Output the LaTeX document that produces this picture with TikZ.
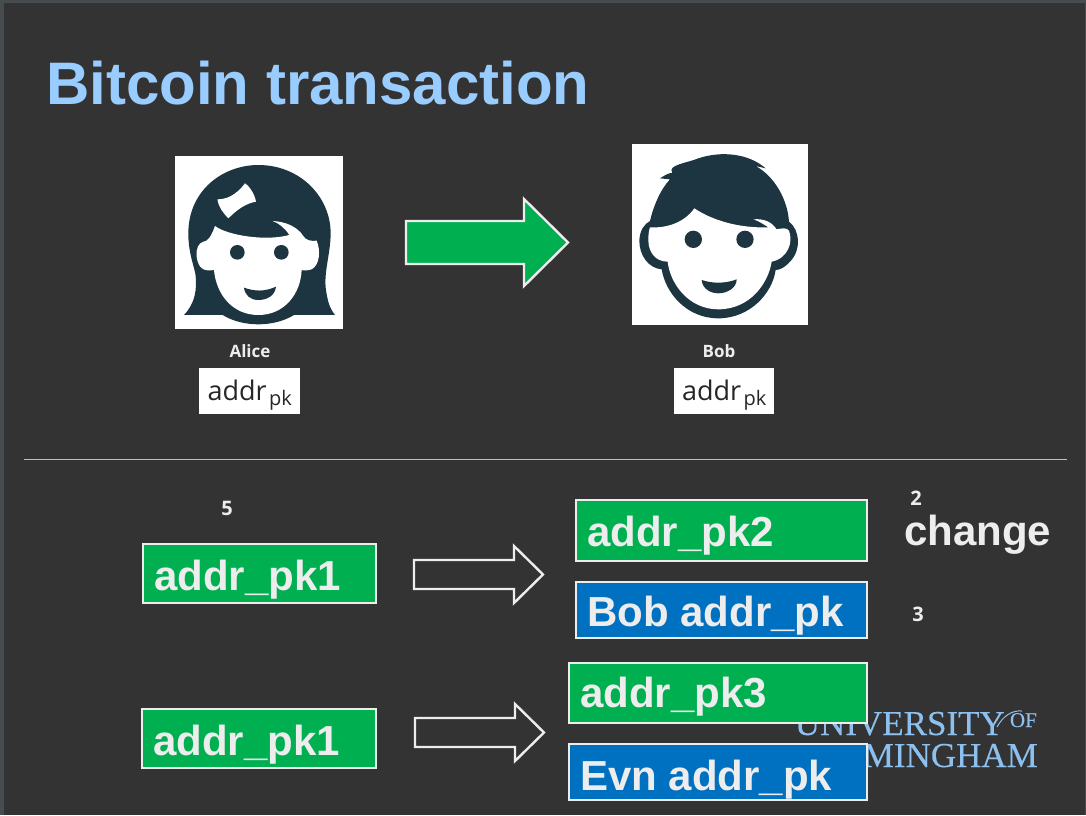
\documentclass[tikz,border=0pt]{standalone}
\usepackage{fontspec}
\setmainfont{Liberation Sans}
\newfontfamily\labelfont{Open Sans}
\newfontfamily\addrfont{Open Sans}
\newfontfamily\logofont[FakeBold=0.25]{Liberation Serif}
\definecolor{bgdark}{HTML}{333333}
\definecolor{frameedge}{HTML}{474C4E}
\definecolor{titleblue}{HTML}{99CCFF}
\definecolor{boxgreen}{HTML}{00B050}
\definecolor{boxblue}{HTML}{0070C0}
\definecolor{boxedge}{HTML}{EDEDED}
\definecolor{facedark}{HTML}{1D3540}
\definecolor{logoblue}{HTML}{8DBFEF}
\tikzset{
  x=1pt,y=-1pt,
  addrbox/.style={draw=boxedge,line width=2.3pt,inner sep=0pt,anchor=north west},
  greenbox/.style={addrbox,fill=boxgreen},
  bluebox/.style={addrbox,fill=boxblue},
  blockout/.style={draw=boxedge,line width=2.4pt,miter limit=10},
  smallnum/.style={text=boxedge,font=\labelfont\fontsize{20}{20}\selectfont\bfseries,inner sep=0pt},
  personlabel/.style={text=boxedge,font=\labelfont\fontsize{17}{17}\selectfont\bfseries,inner sep=0pt},
  whitecard/.style={fill=white,draw=none,inner sep=0pt,anchor=north west},
  addrcard/.style={whitecard,text=black!85,align=center},
  logotext/.style={text=logoblue,inner sep=0pt,anchor=base east,font=\logofont},
}
\newcommand{\addrpk}{\raisebox{-9pt}[0pt][0pt]{\addrfont\fontsize{27}{27}\selectfont addr\kern2.5pt\raisebox{-5pt}{\fontsize{20}{20}\selectfont pk}}}
\newcommand{\boxat}[8]{\node[#1,minimum width=#4pt-2.3pt,minimum height=#5pt-2.3pt] (#6) at (#2,#3) {};
  \node[text=boxedge,inner sep=0pt,anchor=base west,font=\fontsize{42}{42}\selectfont\bfseries] (#6t) at ([xshift=12pt,yshift=-14.5pt-#8pt]#6.west) {#7};}
\begin{document}
\begin{tikzpicture}
\useasboundingbox (0,0) rectangle (1086,815);
\fill[frameedge] (0,0) rectangle (1086,815);
\fill[bgdark] (4,3) rectangle (1085,815);

\node[text=titleblue,inner sep=0pt,anchor=base west,font=\fontsize{60}{60}\selectfont\bfseries] (title) at (46,104) {Bitcoin transaction};

% Alice
\node[whitecard,minimum width=168pt,minimum height=173pt] (alicecard) at (175,156) {};
\begin{scope}[shift={(170,140)},x=0.3333pt,y=-0.3333pt]
\fill[facedark] (42,525) .. controls (75,490) and (82,450) .. (76,400)
  .. controls (66,360) and (55,330) .. (55,280)
  .. controls (55,150) and (160,75) .. (265,75)
  .. controls (390,75) and (482,170) .. (482,280)
  .. controls (482,340) and (460,400) .. (468,450)
  .. controls (474,490) and (480,505) .. (495,525)
  -- (372,525) .. controls (340,545) and (300,553) .. (265,553)
  .. controls (230,553) and (190,545) .. (158,525) -- cycle;
\fill[white] (135,258) .. controls (170,285) and (285,305) .. (358,285)
  .. controls (345,265) and (328,250) .. (308,243)
  .. controls (345,245) and (380,258) .. (400,288)
  .. controls (405,300) and (425,305) .. (440,302)
  .. controls (452,330) and (450,375) .. (425,388)
  .. controls (412,392) and (400,392) .. (395,390)
  .. controls (392,460) and (345,525) .. (265,525)
  .. controls (185,525) and (138,460) .. (132,390)
  .. controls (100,395) and (85,385) .. (80,350)
  .. controls (78,325) and (85,310) .. (100,305)
  .. controls (115,305) and (125,285) .. (135,258) -- cycle;
\fill[white] (142,178) .. controls (165,178) and (195,170) .. (225,130)
  .. controls (240,140) and (255,165) .. (258,185)
  .. controls (230,190) and (205,205) .. (175,235)
  .. controls (160,220) and (145,200) .. (142,178) -- cycle;
\fill[facedark] (202,337) circle[radius=22];
\fill[facedark] (334,337) circle[radius=22];
\fill[facedark] (222,443) .. controls (255,455) and (285,455) .. (318,440)
  .. controls (315,468) and (290,480) .. (265,480)
  .. controls (240,480) and (225,465) .. (222,443) -- cycle;
\end{scope}
\node[personlabel] (alicename) at (250,351) {Alice};
\node[addrcard,minimum width=101pt,minimum height=46pt] (aliceaddr) at (199,368) {\addrpk};

% Bob
\node[whitecard,minimum width=176pt,minimum height=181pt] (bobcard) at (632,144) {};
\begin{scope}[shift={(625,140)},x=0.3333pt,y=-0.3333pt]
\fill[facedark] (105,115) .. controls (120,105) and (130,100) .. (142,98)
  .. controls (125,75) and (190,68) .. (220,55)
  .. controls (290,32) and (370,40) .. (422,85)
  -- (392,78) .. controls (450,110) and (488,180) .. (492,245)
  .. controls (525,270) and (530,330) .. (495,365)
  .. controls (480,382) and (465,390) .. (452,390)
  .. controls (442,460) and (375,535) .. (280,535)
  .. controls (185,535) and (122,460) .. (110,388)
  .. controls (70,385) and (42,345) .. (43,300)
  .. controls (45,270) and (58,252) .. (75,243)
  .. controls (85,200) and (105,150) .. (135,118) -- cycle;
\fill[white] (75,262) .. controls (130,265) and (180,245) .. (208,205)
  .. controls (260,240) and (340,265) .. (430,262)
  .. controls (412,250) and (398,242) .. (385,238)
  .. controls (420,235) and (442,248) .. (455,268)
  .. controls (470,265) and (485,262) .. (492,272)
  .. controls (505,305) and (490,355) .. (440,365)
  .. controls (430,430) and (375,508) .. (280,508)
  .. controls (190,508) and (135,430) .. (128,365)
  .. controls (90,365) and (70,335) .. (70,300)
  .. controls (70,282) and (72,270) .. (75,262) -- cycle;
\fill[facedark] (205,298) circle[radius=26];
\fill[facedark] (360,298) circle[radius=26];
\fill[facedark] (230,420) .. controls (265,432) and (305,430) .. (335,418)
  .. controls (335,445) and (305,460) .. (280,460)
  .. controls (255,460) and (232,445) .. (230,420) -- cycle;
\end{scope}
\node[personlabel] (bobname) at (719,351) {Bob};
\node[addrcard,minimum width=100pt,minimum height=46pt] (bobaddr) at (674,368) {\addrpk};

% top green arrow
\fill[boxgreen,draw=boxedge,line width=2.4pt,miter limit=10] (406,221) -- (524,221) -- (524,199) -- (568,242.5) -- (524,286) -- (524,264) -- (406,264) -- cycle;

% separator
\draw[boxedge!75!bgdark,line width=0.9pt] (24,459) -- (1067,459);

% logo (behind boxes)
\node[logotext,font=\logofont\fontsize{35}{35}\selectfont] (logouni) at (1005,735) {UNIVERSITY};
\node[logotext,font=\logofont\fontsize{21}{21}\selectfont] (logoof) at (1037,727) {OF};
\node[logotext,font=\logofont\fontsize{35}{35}\selectfont] (logobir) at (1038,767) {MINGHAM};
\draw[logoblue,line width=1pt] (997,727) .. controls (1003,716) and (1012,710) .. (1022,711);

% row 1
\boxat{greenbox}{142}{543}{235}{61}{pkone}{addr\_pk1}{2}
\boxat{greenbox}{575}{499}{293}{63}{pktwo}{addr\_pk2}{1}
\boxat{bluebox}{575}{581}{293}{58}{bobpk}{Bob addr\_pk}{2}
\draw[blockout] (414,560) -- (514,560) -- (514,546) -- (543,574.5) -- (514,603) -- (514,589) -- (414,589) -- cycle;
\node[smallnum] (five) at (227,508) {5};
\node[smallnum] (two) at (916,498) {2};
\node[smallnum] (three) at (918,614) {3};
\node[text=boxedge,inner sep=0pt,anchor=base west,font=\fontsize{42}{42}\selectfont\bfseries] (change) at (904,545) {change};

% row 2
\boxat{greenbox}{141}{708}{236}{61}{pkonebis}{addr\_pk1}{2}
\boxat{greenbox}{568}{662}{300}{62}{pkthree}{addr\_pk3}{0}
\boxat{bluebox}{568}{743}{300}{58}{evnpk}{Evn addr\_pk}{3.5}
\draw[blockout] (415,718) -- (515,718) -- (515,704) -- (544,732.5) -- (515,761) -- (515,747) -- (415,747) -- cycle;
\end{tikzpicture}
\end{document}
